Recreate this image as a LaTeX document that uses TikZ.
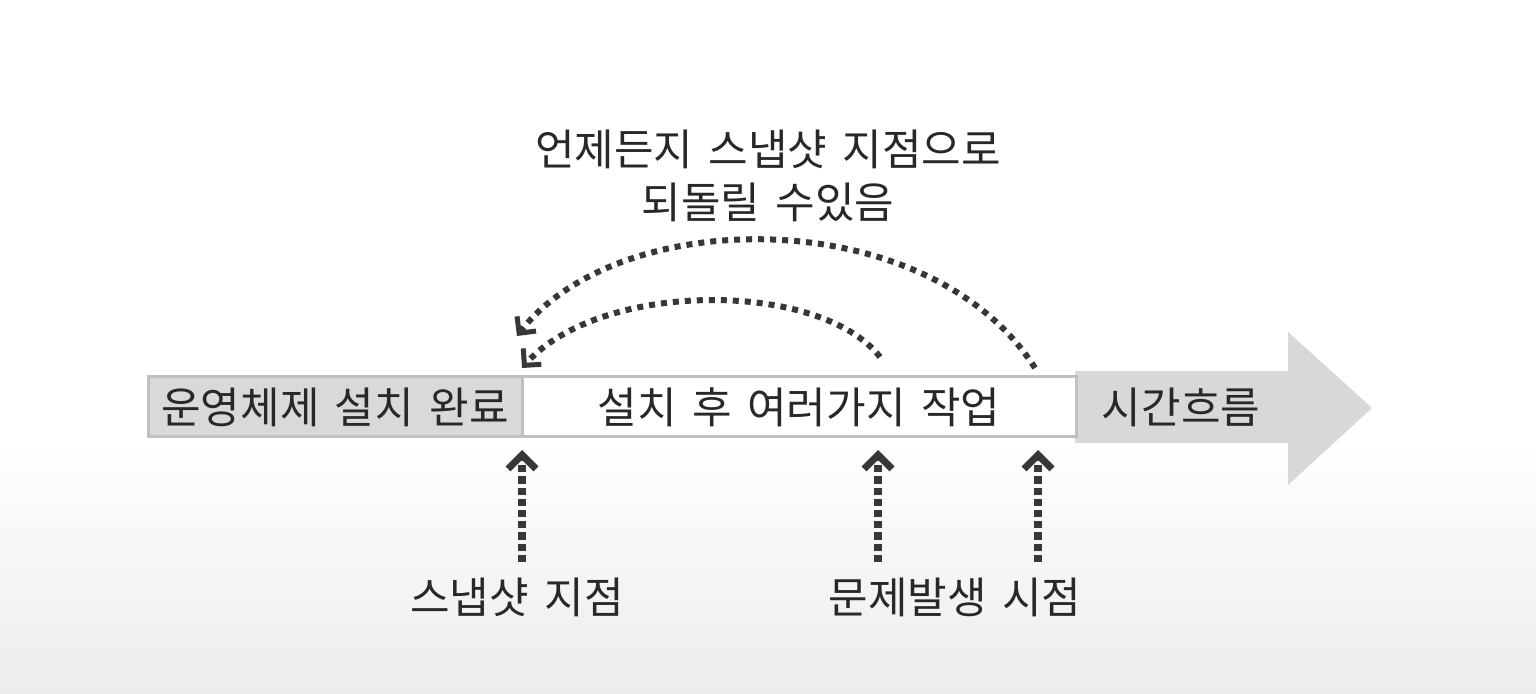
\documentclass[tikz,border=0pt]{standalone}
\usepackage{fontspec}
\setmainfont{Noto Sans CJK KR}[WordSpace=1.6]
\usetikzlibrary{arrows.meta}
\definecolor{txt}{RGB}{40,40,40}
\definecolor{boxgray}{RGB}{217,217,217}
\definecolor{bordergray}{RGB}{192,192,192}
\definecolor{arrowgray}{RGB}{216,216,216}
\definecolor{dotc}{RGB}{55,55,55}
\definecolor{bgbottom}{RGB}{236,236,236}
\tikzset{
  lbl/.style={inner sep=0pt, text=txt, font=\fontsize{21.5pt}{26.5pt}\selectfont},
  stagebox/.style={draw=bordergray, line width=1.5pt, minimum height=30pt, inner sep=0pt, text=txt, font=\fontsize{21.5pt}{24pt}\selectfont},
  vup/.style={draw=dotc, line width=4pt, dash pattern=on 3.6pt off 2pt, -{Straight Barb[length=7pt,width=14pt,line width=3.5pt]}},
  arc/.style={draw=dotc, line width=3pt, dash pattern=on 3pt off 3pt, -{Straight Barb[length=6pt,width=12pt,line width=2.5pt]}}
}
\begin{document}
\begin{tikzpicture}[x=0.5pt,y=-0.5pt]
\useasboundingbox (0,0) rectangle (1536,694);
\fill[white] (0,0) rectangle (1536,694);
\shade[top color=white, bottom color=bgbottom] (0,440) rectangle (1536,694);
% big time arrow
\fill[arrowgray] (1075,371) -- (1288,371) -- (1288,332) -- (1372,408) -- (1288,485) -- (1288,443) -- (1075,443) -- cycle;
\node[lbl] (flow) at (1181,407) {시간흐름};
% stage boxes
\node[stagebox, fill=boxgray, minimum width=187pt] (os) at (335,407) {운영체제 설치 완료};
\node[stagebox, fill=white, minimum width=277pt] (work) at (799,407) {설치 후 여러가지 작업};
% labels
\node[lbl, align=center] (back) at (768,176) {언제든지 스냅샷 지점으로\\되돌릴 수있음};
\node[lbl] (snap) at (517,597) {스냅샷 지점};
\node[lbl] (prob) at (955,597) {문제발생 시점};
% vertical arrows
\coordinate (v1s) at (522,562); \coordinate (v1e) at (522,450);
\coordinate (v2s) at (878,562); \coordinate (v2e) at (878,450);
\coordinate (v3s) at (1038,562); \coordinate (v3e) at (1038,450);
\draw[vup] (v1s) -- (v1e);
\draw[vup] (v2s) -- (v2e);
\draw[vup] (v3s) -- (v3e);
% curved return arrows
\coordinate (c1s) at (1035,368); \coordinate (c1e) at (517,336);
\coordinate (c2s) at (880,357); \coordinate (c2e) at (522,368);
\draw[arc] (c1s) .. controls (930,203) and (620,203) .. (c1e);
\draw[arc] (c2s) .. controls (820,280) and (600,280) .. (c2e);
\end{tikzpicture}
\end{document}
